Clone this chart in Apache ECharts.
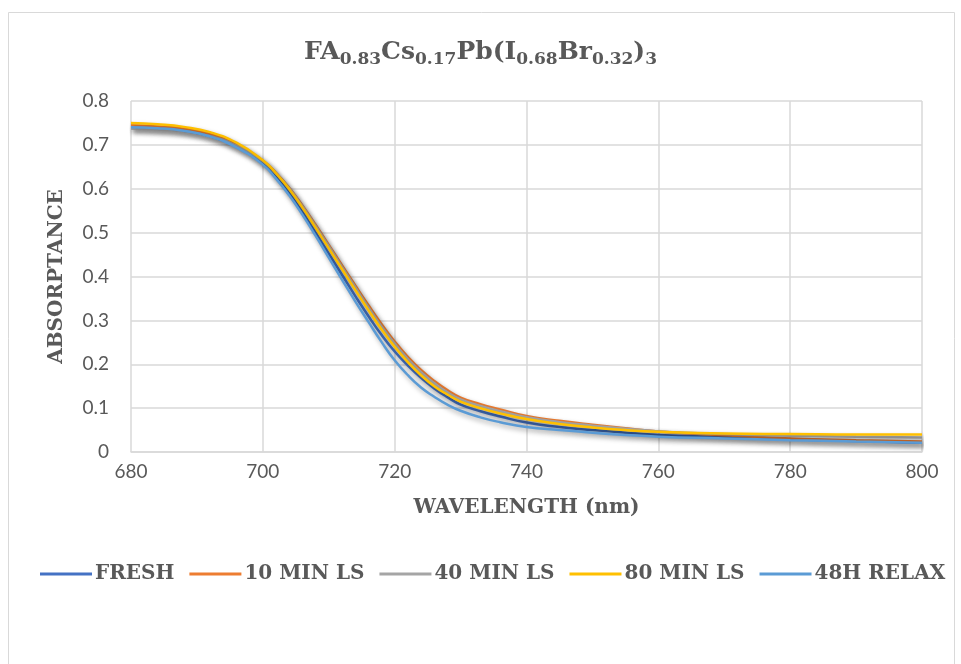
<!DOCTYPE html>
<html>
<head>
<meta charset="utf-8">
<script src="https://cdn.jsdelivr.net/npm/echarts@6/dist/echarts.min.js"></script>
<style>
  html, body { margin: 0; padding: 0; background: #fff; }
  #chart { width: 961px; height: 664px; }
</style>
</head>
<body>
<div id="chart"></div>
<script>
// wavelength (nm)
const wavelength = [680, 684, 688, 692, 696, 700, 702, 704, 706, 708, 710, 712, 714, 716, 718, 720,
  722, 724, 726, 728, 730, 733, 736, 740, 745, 750, 755, 760, 770, 780, 790, 800]

const fresh = [0.739, 0.737, 0.732, 0.720, 0.696, 0.658, 0.627, 0.590, 0.547, 0.500, 0.452, 0.404, 0.356, 0.310, 0.267, 0.229,
  0.197, 0.169, 0.145, 0.125, 0.108, 0.093, 0.081, 0.067, 0.057, 0.050, 0.044, 0.039, 0.034, 0.029, 0.025, 0.021]
const min10 = [0.745, 0.742, 0.737, 0.725, 0.702, 0.664, 0.636, 0.602, 0.562, 0.518, 0.472, 0.426, 0.380, 0.335, 0.292, 0.252,
  0.217, 0.187, 0.162, 0.141, 0.124, 0.109, 0.097, 0.082, 0.071, 0.062, 0.054, 0.047, 0.038, 0.031, 0.027, 0.024]
const min40 = [0.737, 0.735, 0.731, 0.720, 0.698, 0.663, 0.635, 0.601, 0.560, 0.515, 0.469, 0.422, 0.376, 0.330, 0.286, 0.247,
  0.212, 0.182, 0.157, 0.136, 0.120, 0.105, 0.093, 0.079, 0.068, 0.060, 0.053, 0.047, 0.041, 0.037, 0.035, 0.033]
const min80 = [0.750, 0.747, 0.741, 0.729, 0.705, 0.665, 0.635, 0.599, 0.557, 0.511, 0.464, 0.417, 0.370, 0.324, 0.280, 0.240,
  0.205, 0.175, 0.150, 0.131, 0.115, 0.100, 0.088, 0.075, 0.064, 0.056, 0.050, 0.046, 0.042, 0.041, 0.040, 0.040]
const relax48 = [0.740, 0.738, 0.732, 0.719, 0.694, 0.655, 0.623, 0.585, 0.541, 0.493, 0.443, 0.393, 0.344, 0.297, 0.251, 0.209,
  0.175, 0.147, 0.126, 0.108, 0.094, 0.079, 0.068, 0.057, 0.050, 0.044, 0.039, 0.035, 0.031, 0.027, 0.024, 0.021]

const seriesNames = ['FRESH', '10 MIN LS', '40 MIN LS', '80 MIN LS', '48H RELAX']
const seriesValues = [fresh, min10, min40, min80, relax48]
const seriesColors = ['#4472C4', '#ED7D31', '#A5A5A5', '#FFC000', '#5B9BD5']

const textColor = '#595959'
const serif = 'DejaVu Serif'

const chart = echarts.init(document.getElementById('chart'))

const option = {
  backgroundColor: '#fff',
  animation: false,
  title: {
    text: '{m|FA}{s|0.83}{m|Cs}{s|0.17}{m|Pb(I}{s|0.68}{m|Br}{s|0.32}{m|)}{s|3}',
    left: 'center',
    top: 32,
    textStyle: {
      rich: {
        m: { fontFamily: serif, fontWeight: 'bold', fontSize: 25, color: textColor },
        s: { fontFamily: serif, fontWeight: 'bold', fontSize: 17, color: textColor, padding: [14, 0, 0, 0] }
      }
    }
  },
  legend: {
    data: seriesNames,
    left: 35,
    top: 559,
    width: 930,
    icon: 'rect',
    itemWidth: 52,
    itemHeight: 3,
    itemGap: 15,
    textStyle: { fontFamily: serif, fontWeight: 'bold', fontSize: 20, color: textColor, padding: [0, 0, 0, -2] }
  },
  grid: { left: 131, right: 39, top: 101, bottom: 212 },
  xAxis: {
    type: 'value',
    min: 680,
    max: 800,
    interval: 20,
    name: 'WAVELENGTH (nm)',
    nameLocation: 'middle',
    nameGap: 46,
    nameTextStyle: { fontFamily: serif, fontWeight: 'bold', fontSize: 20, color: textColor },
    axisLine: { lineStyle: { color: '#d9d9d9', width: 1.5 } },
    axisTick: { show: false },
    axisLabel: { fontFamily: 'Lato', fontSize: 19, color: textColor, margin: 10 },
    splitLine: { lineStyle: { color: '#d9d9d9', width: 1.5 } }
  },
  yAxis: {
    type: 'value',
    min: 0,
    max: 0.8,
    interval: 0.1,
    name: 'ABSORPTANCE',
    nameLocation: 'middle',
    nameGap: 64,
    nameTextStyle: { fontFamily: serif, fontWeight: 'bold', fontSize: 20, color: textColor },
    axisLine: { show: false },
    axisTick: { show: false },
    axisLabel: { fontFamily: 'Lato', fontSize: 19, color: textColor, margin: 22 },
    splitLine: { lineStyle: { color: '#d9d9d9', width: 1.5 } }
  },
  graphic: [{
    type: 'rect',
    shape: { x: 8.5, y: 12.5, width: 946, height: 660 },
    style: { fill: 'none', stroke: '#d9d9d9', lineWidth: 1 },
    silent: true
  }],
  series: seriesNames.map((name, i) => ({
    name: name,
    type: 'line',
    data: wavelength.map((w, j) => [w, seriesValues[i][j]]),
    smooth: 0.5,
    showSymbol: false,
    color: seriesColors[i],
    lineStyle: {
      width: 2.5,
      color: seriesColors[i],
      shadowColor: 'rgba(0, 0, 0, 0.35)',
      shadowBlur: 5,
      shadowOffsetX: 2,
      shadowOffsetY: 3
    }
  }))
}

chart.setOption(option)
</script>
</body>
</html>
